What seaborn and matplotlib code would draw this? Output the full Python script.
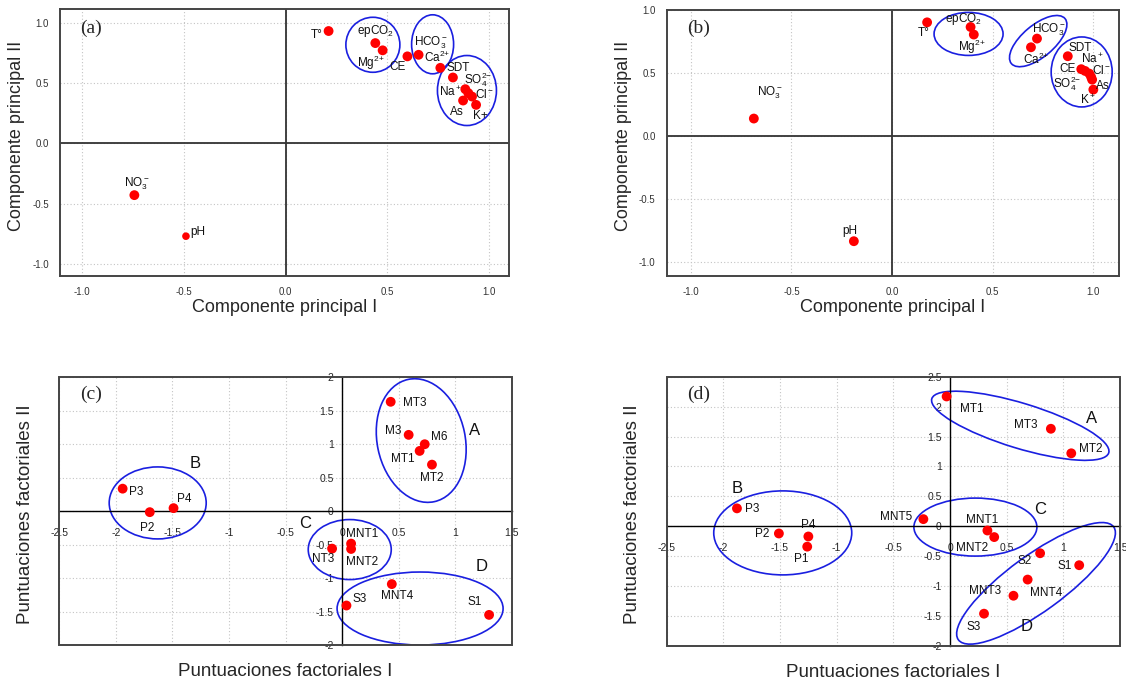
import numpy as np
import pandas as pd
import matplotlib
matplotlib.use("Agg")
import matplotlib.pyplot as plt
import seaborn as sns
from matplotlib.patches import Ellipse, Rectangle
from matplotlib.transforms import ScaledTranslation
from matplotlib.ticker import FormatStrFormatter

# ---------------- data ----------------
a_labels = ['T°', 'epCO$_2$', 'Mg$^{2\\!+}$', 'CE', 'HCO$_3^-$', 'Ca$^{2\\!+}$', 'SDT',
            'SO$_4^{2\\!-}$', 'Na$^+$', 'Cl$^-$', 'As', 'K+', 'NO$_3^-$', 'pH']
a_x = [0.212, 0.442, 0.478, 0.600, 0.655, 0.762, 0.824, 0.885, 0.900, 0.918, 0.874, 0.938, -0.744, -0.490]
a_y = [0.930, 0.830, 0.770, 0.720, 0.733, 0.625, 0.545, 0.448, 0.415, 0.387, 0.354, 0.318, -0.430, -0.770]

b_labels = ['T°', 'epCO$_2$', 'Mg$^{2\\!+}$', 'HCO$_3^-$', 'Ca$^{2\\!+}$', 'SDT', 'CE',
            'Na$^+$', 'Cl$^-$', 'SO$_4^{2\\!-}$', 'As', 'K$^+$', 'NO$_3^-$', 'pH']
b_x = [0.174, 0.390, 0.406, 0.720, 0.690, 0.873, 0.940, 0.959, 0.980, 0.989, 0.994, 1.000, -0.687, -0.190]
b_y = [0.902, 0.865, 0.805, 0.773, 0.704, 0.633, 0.530, 0.516, 0.495, 0.468, 0.447, 0.368, 0.138, -0.836]

c_labels = ['MT3', 'M3', 'M6', 'MT1', 'MT2', 'P3', 'P2', 'P4', 'NT3', 'MNT1', 'MNT2', 'MNT4', 'S3', 'S1']
c_x = [0.43, 0.589, 0.731, 0.686, 0.795, -1.94, -1.70, -1.49, -0.088, 0.08, 0.08, 0.44, 0.039, 1.30]
c_y = [1.634, 1.14, 1.0, 0.90, 0.695, 0.336, -0.015, 0.045, -0.56, -0.485, -0.565, -1.09, -1.41, -1.55]

d_labels = ['MT1', 'MT3', 'MT2', 'P3', 'P2', 'P4', 'P1', 'MNT5', 'MNT1', 'MNT2', 'S2', 'S1', 'MNT4', 'MNT3', 'S3']
d_x = [-0.03, 0.89, 1.07, -1.88, -1.51, -1.25, -1.26, -0.235, 0.33, 0.39, 0.795, 1.14, 0.685, 0.56, 0.30]
d_y = [2.17, 1.63, 1.22, 0.30, -0.12, -0.17, -0.34, 0.12, -0.07, -0.18, -0.45, -0.65, -0.89, -1.16, -1.46]

group_names = ['A', 'B', 'C', 'D']
pca_ticks = [-1.0, -0.5, 0.0, 0.5, 1.0]
score_xticks = [-2.5, -2, -1.5, -1, -0.5, 0, 0.5, 1, 1.5]
c_yticks = [-2, -1.5, -1, -0.5, 0, 0.5, 1, 1.5, 2]
d_yticks = [-2, -1.5, -1, -0.5, 0, 0.5, 1, 1.5, 2, 2.5]

# ---------------- styling / layout ----------------
a_offs = [(-12, -4), (0, 12), (-12, -13), (-10, -11), (12, 12), (-3, 10), (5, 9),
          (13, 10), (-18, 1), (12, 2), (-6, -11), (4, -11), (2, 11), (12, 4)]
b_offs = [(-3, -11), (-7, 8), (-2, -12), (12, 9), (5, -12), (12, 8), (-14, 0),
          (7, 12), (12, 3), (-24, -7), (11, -6), (-5, -11), (16, 26), (-4, 10)]
c_offs = [(24, -1), (-15, 4), (15, 7), (-17, -8), (0, -13), (14, -3), (-3, -16),
          (11, 9), (-9, -10), (11, 10), (11, -13), (5, -12), (13, 7), (-14, 13)]
d_offs = [(25, -13), (-25, 4), (19, 4), (15, -1), (-17, -1), (0, 11), (-6, -12),
          (-27, 2), (-5, 11), (-22, -11), (-15, -8), (-15, -1), (18, -13), (-28, 5), (-10, -13)]

c_group_pos = [(1.172, 1.21), (-1.295, 0.71), (-0.323, -0.18), (1.23, -0.825)]
d_group_pos = [(1.248, 1.80), (-1.877, 0.64), (0.794, 0.284), (0.677, -1.672)]

# ellipses: centre (data), width/height (pixels), angle (deg)
a_ells = [(0.43, 0.816, 54, 55, 0), (0.724, 0.82, 42, 59, 0), (0.893, 0.437, 59, 70, 0)]
b_ells = [(0.38, 0.81, 69, 43, 0), (0.726, 0.753, 70, 32, 40), (0.942, 0.508, 61, 70, 0)]
c_ells = [(0.70, 1.055, 88, 125, 12), (-1.63, 0.123, 97, 72, 0), (0.068, -0.574, 83, 60, 0), (0.69, -1.455, 166, 73, 0)]
d_ells = [(0.62, 1.68, 185, 45, -17), (-1.476, -0.11, 138, 84, 0), (0.224, -0.013, 123, 58, 0), (0.759, -0.953, 192, 56, 36)]

sns.set_style("white")
plt.rcParams['font.family'] = ['Liberation Sans', 'DejaVu Sans']
plt.rcParams['mathtext.fontset'] = 'custom'
plt.rcParams['mathtext.rm'] = 'Liberation Sans'
plt.rcParams['mathtext.it'] = 'Liberation Sans:italic'
plt.rcParams['mathtext.bf'] = 'Liberation Sans:bold'
plt.rcParams['mathtext.default'] = 'regular'
plt.rcParams['axes.unicode_minus'] = False

DPI = 100
W, H = 1126, 687
fig = plt.figure(figsize=(W / DPI, H / DPI), dpi=DPI)
fig.patch.set_facecolor('white')

RED = '#ff0000'
BLUE = '#1a1fe0'
GRID = dict(color='#c4c4c4', linestyle=(0, (1, 2)), linewidth=0.8)
LBL_FS = 8.5


def px_axes(l, t, r, b):
    return fig.add_axes([l / W, 1 - b / H, (r - l) / W, (b - t) / H])


def draw_ellipses(ax, ells):
    for cx, cy, w, h, ang in ells:
        tr = fig.dpi_scale_trans + ScaledTranslation(cx, cy, ax.transData)
        ax.add_patch(Ellipse((0, 0), w / DPI, h / DPI, angle=ang, transform=tr,
                             fill=False, ec=BLUE, lw=1.2, zorder=2))


def draw_points(ax, xs, ys, labels, offs, sizes=None):
    df = pd.DataFrame({'x': xs, 'y': ys, 'label': labels})
    if sizes is None:
        sns.scatterplot(data=df, x='x', y='y', ax=ax, color=RED, s=50,
                        edgecolor='none', legend=False, zorder=4)
    else:
        df['sz'] = sizes
        for s_val, sub in df.groupby('sz'):
            sns.scatterplot(data=sub, x='x', y='y', ax=ax, color=RED, s=s_val,
                            edgecolor='none', legend=False, zorder=4)
    for (x, y, lab), (dx, dy) in zip(zip(xs, ys, labels), offs):
        ax.annotate(lab, (x, y), xytext=(dx, dy), textcoords='offset pixels',
                    ha='center', va='center', fontsize=LBL_FS, color='#111111', zorder=5)


def pca_panel(ax, xs, ys, labels, offs, xlim, ylim, letter, ells, sizes=None):
    ax.set_xlim(xlim)
    ax.set_ylim(ylim)
    ax.set_xticks(pca_ticks)
    ax.set_yticks(pca_ticks)
    ax.xaxis.set_major_formatter(FormatStrFormatter('%.1f'))
    ax.yaxis.set_major_formatter(FormatStrFormatter('%.1f'))
    ax.tick_params(length=0, labelsize=7, labelcolor='#333333', pad=8)
    ax.grid(True, **GRID)
    ax.set_axisbelow(True)
    for sp in ax.spines.values():
        sp.set_visible(True)
        sp.set_color('#444444')
        sp.set_linewidth(1.4)
    ax.axhline(0, color='#333333', lw=1.3, zorder=1)
    ax.axvline(0, color='#333333', lw=1.3, zorder=1)
    draw_ellipses(ax, ells)
    draw_points(ax, xs, ys, labels, offs, sizes)
    ax.set_xlabel('Componente principal I', fontsize=13)
    ax.set_ylabel('Componente principal II', fontsize=13)
    ax.xaxis.set_label_coords(0.5, -0.088)
    ax.yaxis.set_label_coords(-0.077, 0.525)
    ax.text(0.045, 0.93, letter, transform=ax.transAxes, fontsize=14,
            family='Liberation Serif', ha='left', va='center')


def score_panel(ax, xs, ys, labels, offs, yticks, ylim, letter, ells, gpos):
    ax.set_xlim(-2.5, 1.5)
    ax.set_ylim(ylim)
    ax.set_xticks(score_xticks)
    ax.set_yticks(yticks)
    ax.xaxis.set_major_formatter(FormatStrFormatter('%g'))
    ax.yaxis.set_major_formatter(FormatStrFormatter('%g'))
    ax.grid(True, **GRID)
    ax.set_axisbelow(True)
    ax.spines['left'].set_position(('data', 0))
    ax.spines['bottom'].set_position(('data', 0))
    ax.spines['top'].set_visible(False)
    ax.spines['right'].set_visible(False)
    for k in ('left', 'bottom'):
        ax.spines[k].set_color('black')
        ax.spines[k].set_linewidth(1.0)
    ax.tick_params(axis='y', direction='out', length=4, width=0.8, labelsize=7.5, pad=2)
    ax.tick_params(axis='x', length=0, labelsize=7.5, pad=12)
    ax.add_patch(Rectangle((0, 0), 1, 1, transform=ax.transAxes, fill=False,
                           ec='#444444', lw=1.4, clip_on=False, zorder=6))
    draw_ellipses(ax, ells)
    draw_points(ax, xs, ys, labels, offs)
    for name, (gx, gy) in zip(group_names, gpos):
        ax.text(gx, gy, name, fontsize=12, ha='center', va='center', color='#111111')
    ax.set_xlabel('')
    ax.set_ylabel('')
    ax.text(0.5, -0.10, 'Puntuaciones factoriales I', transform=ax.transAxes,
            fontsize=13.5, ha='center', va='center')
    ax.text(-0.075, 0.49, 'Puntuaciones factoriales II', transform=ax.transAxes,
            fontsize=13.5, ha='center', va='center', rotation=90)
    ax.text(0.046, 0.935, letter, transform=ax.transAxes, fontsize=14,
            family='Liberation Serif', ha='left', va='center')


ax_a = px_axes(60, 9.3, 509, 276)
a_sizes = [50] * 13 + [30]
pca_panel(ax_a, a_x, a_y, a_labels, a_offs, (-1.11, 1.10), (-1.10, 1.11), '(a)', a_ells, a_sizes)

ax_b = px_axes(666.7, 10, 1118.7, 275.7)
pca_panel(ax_b, b_x, b_y, b_labels, b_offs, (-1.12, 1.126), (-1.11, 1.0), '(b)', b_ells)

ax_c = px_axes(59.3, 377.3, 511.7, 645)
score_panel(ax_c, c_x, c_y, c_labels, c_offs, c_yticks, (-2, 2), '(c)', c_ells, c_group_pos)

ax_d = px_axes(666.7, 376.7, 1120, 646)
score_panel(ax_d, d_x, d_y, d_labels, d_offs, d_yticks, (-2, 2.5), '(d)', d_ells, d_group_pos)

fig.savefig('out.png', dpi=DPI, facecolor='white')
